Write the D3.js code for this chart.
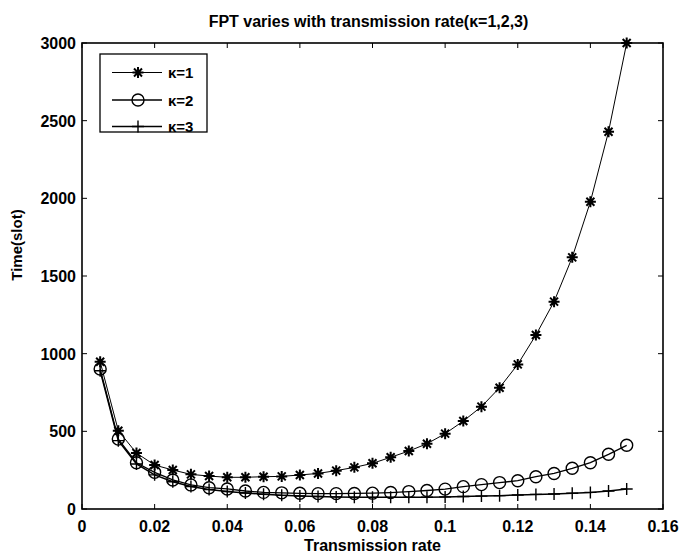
<!DOCTYPE html>
<html><head><meta charset="utf-8">
<script src="https://cdn.jsdelivr.net/npm/d3@7"></script>
<style>body{margin:0;background:#fff}svg{display:block}text{font-family:"Liberation Sans",Arial,sans-serif;font-weight:bold;fill:#000}</style>
</head><body><svg id="c" width="683" height="555"></svg>
<script>
const rates = [0.005,0.01,0.015,0.02,0.025,0.03,0.035,0.04,0.045,0.05,0.055,0.06,0.065,0.07,0.075,0.08,0.085,0.09,0.095,0.1,0.105,0.11,0.115,0.12,0.125,0.13,0.135,0.14,0.145,0.15];
const k1 = [948,504,360,283,251,223,212,204,204,208,210,219,229,247,268,294,333,373,420,485,566,659,781,931,1120,1335,1620,1978,2429,3000];
const k2 = [901,450,298,236,187,155,137,129,116,107,104,101,99,99,100,102,106,112,119,128,144,157,170,182,208,229,262,298,352,410];
const k3 = [890,440,290,220,175,145,125,113,103,95,88,84,80,78,76,75,75,75,76,78,80,83,86,90,94,97,101,107,116,129];
const xTicks = [0,0.02,0.04,0.06,0.08,0.1,0.12,0.14,0.16];
const yTicks = [0,500,1000,1500,2000,2500,3000];
const seriesNames = ["κ=1","κ=2","κ=3"];
const titleText = "FPT varies with transmission rate(κ=1,2,3)";

const svg = d3.select("#c");
const L=82, T=43, R=663, B=509;
const x = d3.scaleLinear().domain([0,0.16]).range([L,R]);
const y = d3.scaleLinear().domain([0,3000]).range([B,T]);

// ticks inside on all four sides
const tl = 5;
const g = svg.append("g").attr("stroke","#000").attr("stroke-width",1);
xTicks.forEach(t=>{
  g.append("line").attr("x1",x(t)).attr("x2",x(t)).attr("y1",B).attr("y2",B-tl);
  g.append("line").attr("x1",x(t)).attr("x2",x(t)).attr("y1",T).attr("y2",T+tl);
});
yTicks.forEach(t=>{
  g.append("line").attr("x1",L).attr("x2",L+tl).attr("y1",y(t)).attr("y2",y(t));
  g.append("line").attr("x1",R).attr("x2",R-tl).attr("y1",y(t)).attr("y2",y(t));
});
svg.append("rect").attr("x",L).attr("y",T).attr("width",R-L).attr("height",B-T)
  .attr("fill","none").attr("stroke","#000").attr("stroke-width",1.6);

// tick labels
svg.append("g").selectAll("text").data(xTicks).join("text")
  .attr("x",d=>x(d)).attr("y",532).attr("text-anchor","middle").attr("font-size",16)
  .text(d=>d3.format("~g")(d));
svg.append("g").selectAll("text").data(yTicks).join("text")
  .attr("x",L-6).attr("y",d=>y(d)+6).attr("text-anchor","end").attr("font-size",16)
  .text(d=>d);

svg.append("text").attr("x",(L+R)/2-4).attr("y",27).attr("text-anchor","middle").attr("font-size",16).text(titleText);
svg.append("text").attr("x",(L+R)/2).attr("y",551).attr("text-anchor","middle").attr("font-size",16).text("Transmission rate");
svg.append("text").attr("transform","translate(22,245) rotate(-90)").attr("text-anchor","middle").attr("font-size",15).text("Time(slot)");

const line = d3.line().x(d=>x(d[0])).y(d=>y(d[1]));
const data = [k1,k2,k3].map(s=>rates.map((r,i)=>[r,s[i]]));
const widths=[1,1.3,1.5];

function marker(sel,type,cx,cy){
  if(type===0){
    const s=5.5,d=4;
    sel.append("path").attr("d",`M${cx-s},${cy}H${cx+s}M${cx},${cy-s}V${cy+s}M${cx-d},${cy-d}L${cx+d},${cy+d}M${cx-d},${cy+d}L${cx+d},${cy-d}`)
      .attr("stroke","#000").attr("stroke-width",2).attr("fill","none");
  } else if(type===1){
    sel.append("circle").attr("cx",cx).attr("cy",cy).attr("r",6).attr("fill","none").attr("stroke","#000").attr("stroke-width",1.4);
  } else {
    sel.append("path").attr("d",`M${cx-6},${cy}H${cx+6}M${cx},${cy-6}V${cy+6}`)
      .attr("stroke","#000").attr("stroke-width",1.4).attr("fill","none");
  }
}

data.forEach((d,k)=>{
  svg.append("path").datum(d).attr("d",line).attr("fill","none").attr("stroke","#000").attr("stroke-width",widths[k]);
  const mg = svg.append("g");
  d.forEach(p=>marker(mg,k,x(p[0]),y(p[1])));
});

// legend
const lg = svg.append("g");
lg.append("rect").attr("x",100).attr("y",54).attr("width",107).attr("height",78).attr("fill","#fff").attr("stroke","#000").attr("stroke-width",1.3);
[72.5,100,126.5].forEach((ly,k)=>{
  lg.append("line").attr("x1",112).attr("x2",162).attr("y1",ly).attr("y2",ly).attr("stroke","#000").attr("stroke-width",widths[k]);
  marker(lg,k,138,ly);
  lg.append("text").attr("x",168).attr("y",ly+5.5).attr("font-size",15).text(seriesNames[k]);
});
</script></body></html>
